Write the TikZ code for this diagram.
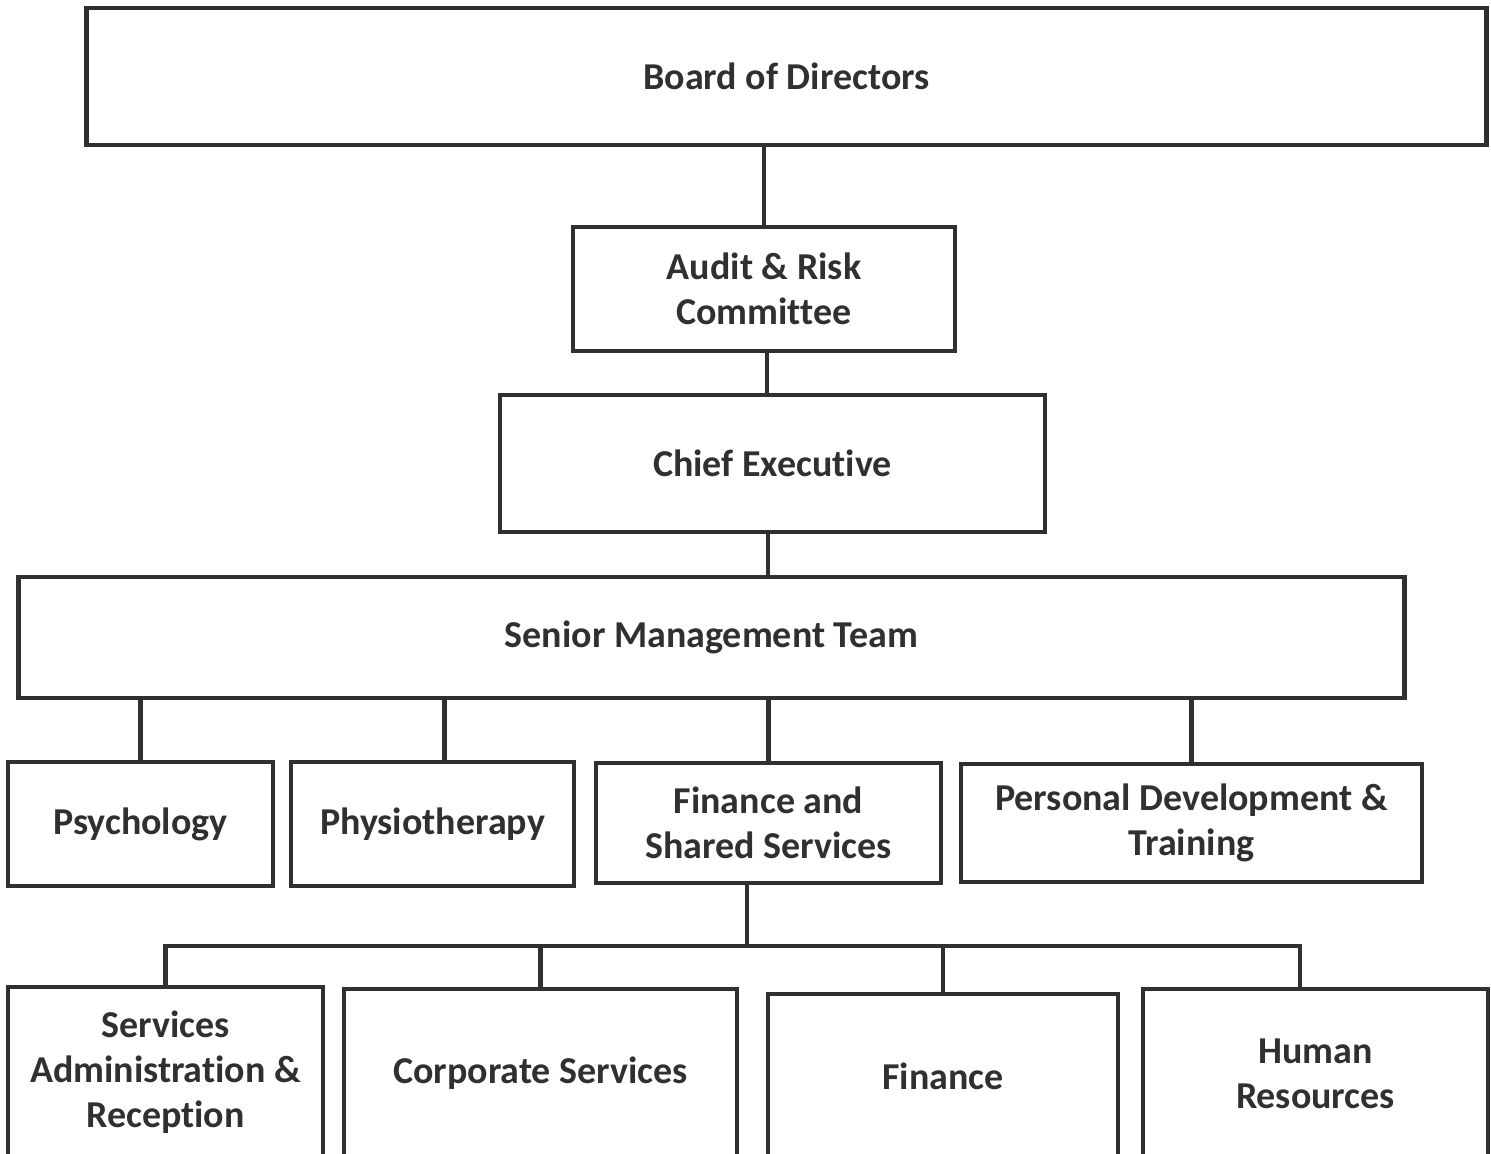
\documentclass[tikz,border=0pt]{standalone}
\usepackage{fontspec}
\setmainfont[Ligatures={NoCommon}]{Carlito}
\usepackage{tikz}
\definecolor{ink}{HTML}{303030}

\begin{document}
\begin{tikzpicture}[x=0.01cm, y=-0.01cm,
  box/.style={draw=ink, line width=1.2pt, inner sep=0pt, align=center,
    text=ink, font=\fontsize{10.8}{12.8}\selectfont\bfseries},
  link/.style={draw=ink, line width=1.2pt}]
\useasboundingbox (0,0) rectangle (1491,1153);
\node (board) [box, minimum width=13.99cm, minimum height=1.37cm] at (786.5,76.5) {Board of Directors};
\node (audit) [box, minimum width=3.82cm, minimum height=1.24cm] at (764,289) {Audit \& Risk\\Committee};
\node (chief) [box, minimum width=5.45cm, minimum height=1.37cm] at (772.5,463.5) {Chief Executive};
\node (smt) [box, minimum width=13.85cm, minimum height=1.21cm] at (711.5,637.5) {Senior Management Team};
\node (psych) [box, minimum width=2.65cm, minimum height=1.24cm] at (140.5,824) {Psychology};
\node (physio) [box, minimum width=2.83cm, minimum height=1.24cm] at (432.5,824) {Physiotherapy};
\node (fss) [box, minimum width=3.45cm, minimum height=1.20cm] at (768.5,823) {Finance and\\Shared Services};
\node (pdt) [box, minimum width=4.61cm, minimum height=1.18cm] at (1191.5,823) {Personal Development \&\\Training};
\node (sar) [box, minimum width=3.15cm, minimum height=1.71cm] at (165.5,1072.5) {Services\\Administration \&\\Reception};
\node (corp) [box, minimum width=3.93cm, minimum height=1.69cm] at (540.5,1073.5) {Corporate Services};
\node (fin) [box, minimum width=3.50cm, minimum height=1.64cm] at (943,1076) {Finance};
\node (hr) [box, minimum width=3.45cm, minimum height=1.69cm] at (1315.5,1073.5) {Human\\Resources};
\coordinate (bus) at (747,946);
% top chain
\draw [link] (board.south -| audit.north) -- (audit.north);
\draw [link] ([xshift=0.03cm]audit.south) -- ([xshift=0.03cm]audit.south |- chief.north);
\draw [link] ([xshift=0.04cm]audit.south |- chief.south) -- ([xshift=0.04cm]audit.south |- smt.north);
% senior team to units
\draw [link] (psych.north |- smt.south) -- (psych.north);
\draw [link] ([xshift=0.12cm]physio.north |- smt.south) -- ([xshift=0.12cm]physio.north);
\draw [link] (fss.north |- smt.south) -- (fss.north);
\draw [link] (pdt.north |- smt.south) -- (pdt.north);
% shared services
\draw [link] (bus |- fss.south) -- (bus);
\draw [link] (sar.north) |- (bus) -| ([xshift=-0.155cm]hr.north);
\draw [link] (corp.north) -- (corp.north |- bus);
\draw [link] (fin.north) -- (fin.north |- bus);
\end{tikzpicture}
\end{document}
